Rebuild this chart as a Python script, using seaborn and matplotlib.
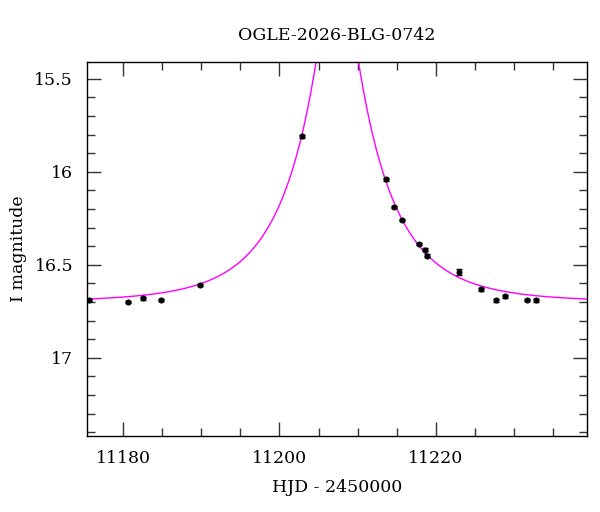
import numpy as np
import pandas as pd
import seaborn as sns
import matplotlib.pyplot as plt
from matplotlib.ticker import MultipleLocator

# observed photometry
hjd = [11175.6, 11180.6, 11182.6, 11184.8, 11189.9, 11202.9, 11213.6, 11214.7,
       11215.7, 11217.8, 11218.6, 11218.9, 11222.9, 11225.8, 11227.7, 11228.9,
       11231.7, 11232.8]
mag = [16.69, 16.70, 16.68, 16.69, 16.61, 15.81, 16.04, 16.19,
       16.26, 16.39, 16.42, 16.45, 16.54, 16.63, 16.69, 16.67,
       16.69, 16.69]
err = [0.006, 0.006, 0.007, 0.006, 0.006, 0.006, 0.007, 0.006,
       0.006, 0.006, 0.008, 0.008, 0.016, 0.008, 0.008, 0.007,
       0.007, 0.008]

# Paczynski model parameters
t0 = 11207.4
tE = 10.3
u0 = 0.175
I0 = 16.70

sns.set_theme(style="ticks")
plt.rcParams['font.family'] = ['DejaVu Serif']
plt.rcParams['text.color'] = 'black'
plt.rcParams['axes.labelcolor'] = 'black'
plt.rcParams['xtick.color'] = 'black'
plt.rcParams['ytick.color'] = 'black'

obs = pd.DataFrame({"hjd": hjd, "mag": mag, "err": err})

t = np.linspace(11175, 11240, 1500)
u = np.sqrt(u0**2 + ((t - t0) / tE) ** 2)
amp = (u**2 + 2) / (u * np.sqrt(u**2 + 4))
model = pd.DataFrame({"hjd": t, "mag": I0 - 2.5 * np.log10(amp)})

fig = plt.figure(figsize=(6, 5.12), dpi=100)
ax = fig.add_axes([0.145, 0.1484, 0.833, 0.7305])

sns.lineplot(data=model, x="hjd", y="mag", color="#ff00ff", linewidth=1.0, ax=ax)
ax.errorbar(obs["hjd"], obs["mag"], yerr=obs["err"], fmt="none", ecolor="black",
            elinewidth=1.0, capsize=2.5, capthick=1.0, zorder=3)
sns.scatterplot(data=obs, x="hjd", y="mag", color="black", marker="o", s=14,
                edgecolor="black", linewidth=0.6, ax=ax, zorder=4)

ax.set_xlim(11175.4, 11239.3)
ax.set_ylim(17.42, 15.41)
ax.xaxis.set_major_locator(MultipleLocator(20))
ax.xaxis.set_minor_locator(MultipleLocator(5))
ax.yaxis.set_minor_locator(MultipleLocator(0.1))
ax.set_yticks([15.5, 16, 16.5, 17])
ax.set_yticklabels(["15.5", "16", "16.5", "17"])
ax.tick_params(which="both", direction="in", top=True, right=True, labelsize=12.5,
               color="#333333", labelcolor="black", width=1.0)
ax.tick_params(which="major", length=10, pad=10)
ax.tick_params(which="minor", length=6)
for s in ax.spines.values():
    s.set_linewidth(1.0)
    s.set_color("black")

ax.set_xlabel("HJD - 2450000", fontsize=12.5, labelpad=9)
ax.set_ylabel("I magnitude", fontsize=12.5, labelpad=5)
ax.set_title("OGLE-2026-BLG-0742", fontsize=12.5, pad=16)

fig.savefig("out.png", dpi=100)
